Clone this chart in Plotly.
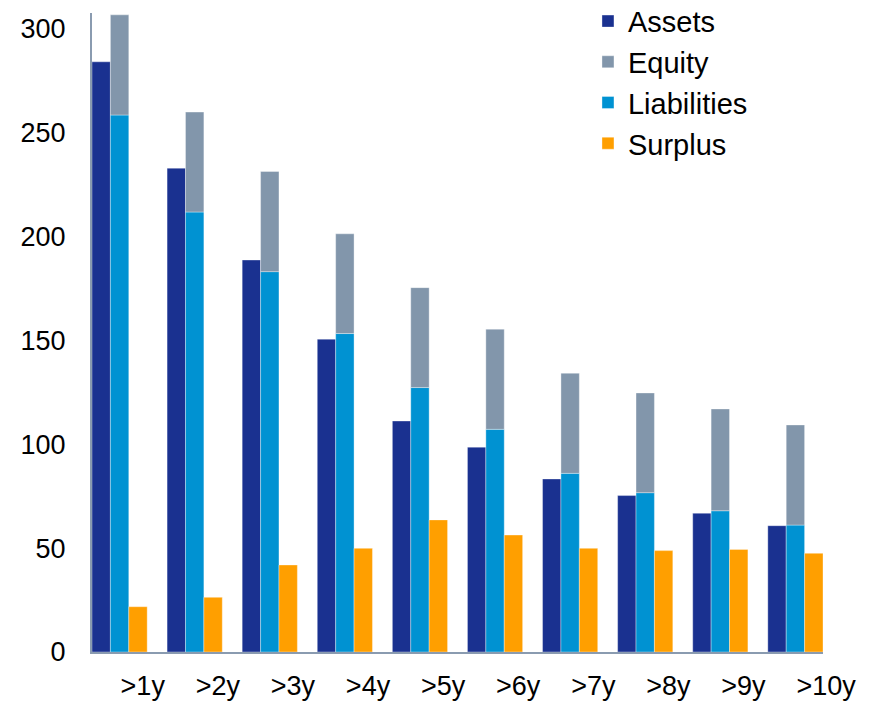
import plotly.graph_objects as go

categories = [">1y", ">2y", ">3y", ">4y", ">5y", ">6y", ">7y", ">8y", ">9y", ">10y"]
assets = [284.1, 232.9, 188.7, 150.6, 111.2, 98.6, 83.3, 75.3, 66.8, 60.8]
liabilities = [258.5, 211.8, 183.1, 153.3, 127.3, 107.2, 86.0, 76.7, 68.0, 61.1]
liab_plus_equity = [306.7, 259.9, 231.3, 201.3, 175.4, 155.4, 134.2, 124.7, 117.0, 109.3]
surplus = [21.8, 26.3, 41.9, 49.9, 63.6, 56.3, 49.9, 48.8, 49.4, 47.5]
equity = [t - l for t, l in zip(liab_plus_equity, liabilities)]
y_ticks = [0, 50, 100, 150, 200, 250, 300]

C_ASSETS = "#1a3190"
C_EQUITY = "#8296ab"
C_LIAB = "#0092d2"
C_SURPLUS = "#ff9f00"
edge = dict(width=1, color="rgba(255,255,255,0.35)")

fig = go.Figure()
fig.add_trace(go.Bar(name="Assets", x=categories, y=assets, offsetgroup="a",
                     marker=dict(color=C_ASSETS, line=edge), legendrank=1))
fig.add_trace(go.Bar(name="Liabilities", x=categories, y=liabilities, offsetgroup="b",
                     marker=dict(color=C_LIAB, line=edge), legendrank=3))
fig.add_trace(go.Bar(name="Equity", x=categories, y=equity, base=liabilities, offsetgroup="b",
                     marker=dict(color=C_EQUITY, line=edge), legendrank=2))
fig.add_trace(go.Bar(name="Surplus", x=categories, y=surplus, offsetgroup="c",
                     marker=dict(color=C_SURPLUS, line=edge), legendrank=4))

fig.update_layout(
    width=863, height=693,
    margin=dict(l=84, r=48, t=5, b=49, autoexpand=False),
    paper_bgcolor="white", plot_bgcolor="white",
    barmode="group", bargap=0.265, bargroupgap=0,
    font=dict(family="Liberation Sans, Arial, sans-serif", size=27, color="black"),
    showlegend=True,
    legend=dict(x=0.6785, y=1.027, xanchor="left", yanchor="top",
                font=dict(size=29), bgcolor="rgba(0,0,0,0)", traceorder="normal"),
    xaxis=dict(range=[-0.3675, 9.3675], showgrid=False, zeroline=False,
               showline=True, linecolor="#8a9bb0", linewidth=2, automargin=False,
               ticks="", ticklabelposition="outside right", ticklabelstandoff=9,
               tickfont=dict(size=27)),
    yaxis=dict(range=[0, 307.6], tickvals=y_ticks, showgrid=False, zeroline=False,
               showline=True, linecolor="#8a9bb0", linewidth=2, automargin=False,
               ticks="", ticklabelstandoff=19, tickfont=dict(size=27)),
)

fig.write_html("out.html")
